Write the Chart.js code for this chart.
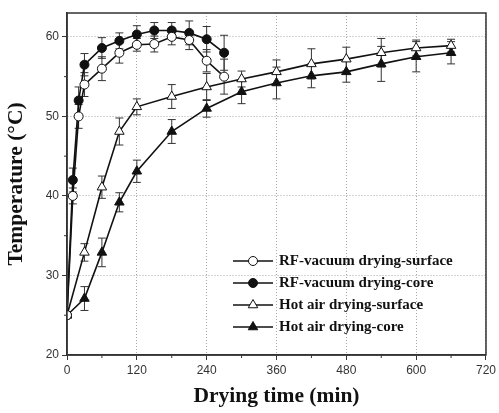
<!DOCTYPE html>
<html>
<head>
<meta charset="utf-8">
<script src="https://cdn.jsdelivr.net/npm/chart.js@4.4.1/dist/chart.umd.min.js"></script>
<style>
  html, body { margin: 0; padding: 0; background: #fff; }
  #wrap { width: 499px; height: 413px; }
</style>
</head>
<body>
<div id="wrap"><canvas id="tempChart"></canvas></div>
<script>
// drying time (min)
const rfTime = [0, 10, 20, 30, 60, 90, 120, 150, 180, 210, 240, 270];
const hotTime = [0, 30, 60, 90, 120, 180, 240, 300, 360, 420, 480, 540, 600, 660];

// temperature (°C) and error bars
const rfSurface = [25, 40, 50, 54, 56, 58, 59, 59.1, 60, 59.6, 57, 55];
const rfSurfaceErr = [0, 1, 1.5, 1.5, 1.5, 1.3, 0.8, 1, 1, 1.2, 1.4, 2.2];
const rfCore = [25, 42, 52, 56.5, 58.6, 59.5, 60.3, 60.8, 60.8, 60.5, 59.7, 58];
const rfCoreErr = [0, 1.5, 1.7, 1.4, 1.3, 1, 1.1, 1, 1, 1.5, 1.6, 2.2];
const hotSurface = [25, 32.9, 41.1, 48.1, 51.2, 52.5, 53.7, 54.7, 55.6, 56.6, 57.2, 58, 58.6, 58.9];
const hotSurfaceErr = [0, 1.1, 1.4, 1.7, 1, 1.5, 1.7, 1, 1.5, 1.9, 1.5, 1.8, 1, 0.8];
const hotCore = [25, 27.1, 32.9, 39.2, 43.1, 48.1, 51, 53.1, 54.2, 55.1, 55.6, 56.6, 57.5, 58];
const hotCoreErr = [0, 1.5, 1.8, 1.2, 1.4, 1.5, 1.1, 1.5, 2, 1.5, 1.3, 2.2, 1.9, 1.4];

const seriesLabels = ['RF-vacuum drying-surface', 'RF-vacuum drying-core', 'Hot air drying-surface', 'Hot air drying-core'];
const xTicks = [0, 120, 240, 360, 480, 600, 720];
const xMinor = [60, 180, 300, 420, 540, 660];
const yTicks = [20, 30, 40, 50, 60];
const yMinor = [25, 35, 45, 55];

const sansFont = "'Liberation Sans', Arial, sans-serif";
const serifFont = "'Liberation Serif', 'Times New Roman', serif";

function pts(xs, ys) {
    return xs.map((x, i) => ({ x: x, y: ys[i] }));
}

function makeSet(label, xs, ys, errs, style, filled) {
    return {
        label: label,
        data: pts(xs, ys),
        errors: errs,
        borderColor: '#111',
        borderWidth: 1.6,
        pointStyle: style,
        pointRadius: style === 'triangle' ? 5.5 : 4.5,
        pointBorderWidth: 1,
        pointBorderColor: '#111',
        pointBackgroundColor: filled ? '#111' : '#fff',
        tension: 0,
        fill: false
    };
}

const errorBars = {
    id: 'errorBars',
    beforeDatasetsDraw(chart) {
        const ctx = chart.ctx, xs = chart.scales.x, ys = chart.scales.y;
        ctx.save();
        ctx.strokeStyle = '#333';
        ctx.lineWidth = 1;
        chart.data.datasets.forEach(ds => {
            ds.data.forEach((p, i) => {
                const e = ds.errors[i];
                if (!e) return;
                const px = xs.getPixelForValue(p.x);
                const top = ys.getPixelForValue(p.y + e);
                const bot = ys.getPixelForValue(p.y - e);
                ctx.beginPath();
                ctx.moveTo(px, top); ctx.lineTo(px, bot);
                ctx.moveTo(px - 4, top); ctx.lineTo(px + 4, top);
                ctx.moveTo(px - 4, bot); ctx.lineTo(px + 4, bot);
                ctx.stroke();
            });
        });
        ctx.restore();
    }
};

const frame = {
    id: 'frame',
    afterDraw(chart) {
        const ctx = chart.ctx, a = chart.chartArea, xs = chart.scales.x, ys = chart.scales.y;
        ctx.save();
        ctx.strokeStyle = '#333';
        ctx.lineWidth = 1.5;
        ctx.strokeRect(a.left, a.top, a.right - a.left, a.bottom - a.top);
        ctx.lineWidth = 1;
        ctx.beginPath();
        xMinor.forEach(v => {
            const px = xs.getPixelForValue(v);
            ctx.moveTo(px, a.bottom); ctx.lineTo(px, a.bottom + 3);
        });
        yMinor.forEach(v => {
            const py = ys.getPixelForValue(v);
            ctx.moveTo(a.left, py); ctx.lineTo(a.left - 3, py);
        });
        ctx.stroke();

        // legend inside the plot
        const x0 = 233, y0 = 261, gap = 22;
        chart.data.datasets.forEach((ds, i) => {
            const y = y0 + i * gap;
            ctx.strokeStyle = '#111';
            ctx.lineWidth = 1.6;
            ctx.beginPath();
            ctx.moveTo(x0, y); ctx.lineTo(x0 + 40, y);
            ctx.stroke();
            ctx.fillStyle = ds.pointBackgroundColor;
            ctx.lineWidth = 1;
            Chart.helpers.drawPoint(ctx, { pointStyle: ds.pointStyle, radius: ds.pointRadius, borderWidth: 1 }, x0 + 20, y);
            ctx.fillStyle = '#111';
            ctx.font = 'bold 15px ' + serifFont;
            ctx.textBaseline = 'middle';
            ctx.textAlign = 'left';
            ctx.fillText(ds.label, x0 + 46, y);
        });
        ctx.restore();
    }
};

const axisGrid = {
    color: '#a8a8a8',
    lineWidth: 1,
    tickColor: '#333',
    tickBorderDash: [],
    tickLength: 5,
    tickWidth: 1
};
// in v4 border.dash is what dashes the grid lines
const axisBorder = { display: true, color: '#333', width: 1.5, dash: [1, 2] };

const ctxEl = document.getElementById('tempChart');
new Chart(ctxEl, {
    type: 'line',
    data: {
        datasets: [
            makeSet(seriesLabels[0], rfTime, rfSurface, rfSurfaceErr, 'circle', false),
            makeSet(seriesLabels[1], rfTime, rfCore, rfCoreErr, 'circle', true),
            makeSet(seriesLabels[2], hotTime, hotSurface, hotSurfaceErr, 'triangle', false),
            makeSet(seriesLabels[3], hotTime, hotCore, hotCoreErr, 'triangle', true)
        ]
    },
    options: {
        responsive: true,
        maintainAspectRatio: false,
        animation: false,
        layout: { padding: { top: 13, right: 12, left: 0, bottom: 0 } },
        plugins: {
            legend: { display: false },
            tooltip: { enabled: false }
        },
        scales: {
            x: {
                type: 'linear',
                min: 0,
                max: 720,
                afterFit: s => { s.height = 58; },
                afterBuildTicks: s => { s.ticks = xTicks.map(v => ({ value: v })); },
                border: axisBorder,
                grid: axisGrid,
                ticks: {
                    padding: 3,
                    color: '#333',
                    maxRotation: 0,
                    font: { family: sansFont, size: 12 }
                },
                title: {
                    display: true,
                    text: 'Drying time (min)',
                    color: '#111',
                    padding: { top: 2, bottom: 4 },
                    font: { family: serifFont, size: 21.5, weight: 'bold' }
                }
            },
            y: {
                type: 'linear',
                min: 20,
                max: 63,
                afterFit: s => { s.width = 67; },
                afterBuildTicks: s => { s.ticks = yTicks.map(v => ({ value: v })); },
                border: axisBorder,
                grid: axisGrid,
                ticks: {
                    padding: 3,
                    color: '#333',
                    font: { family: sansFont, size: 12 }
                },
                title: {
                    display: true,
                    text: 'Temperature (\u00B0C)',
                    color: '#111',
                    padding: { top: 4, bottom: 4 },
                    font: { family: serifFont, size: 21.5, weight: 'bold' }
                }
            }
        }
    },
    plugins: [errorBars, frame]
});
</script>
</body>
</html>
